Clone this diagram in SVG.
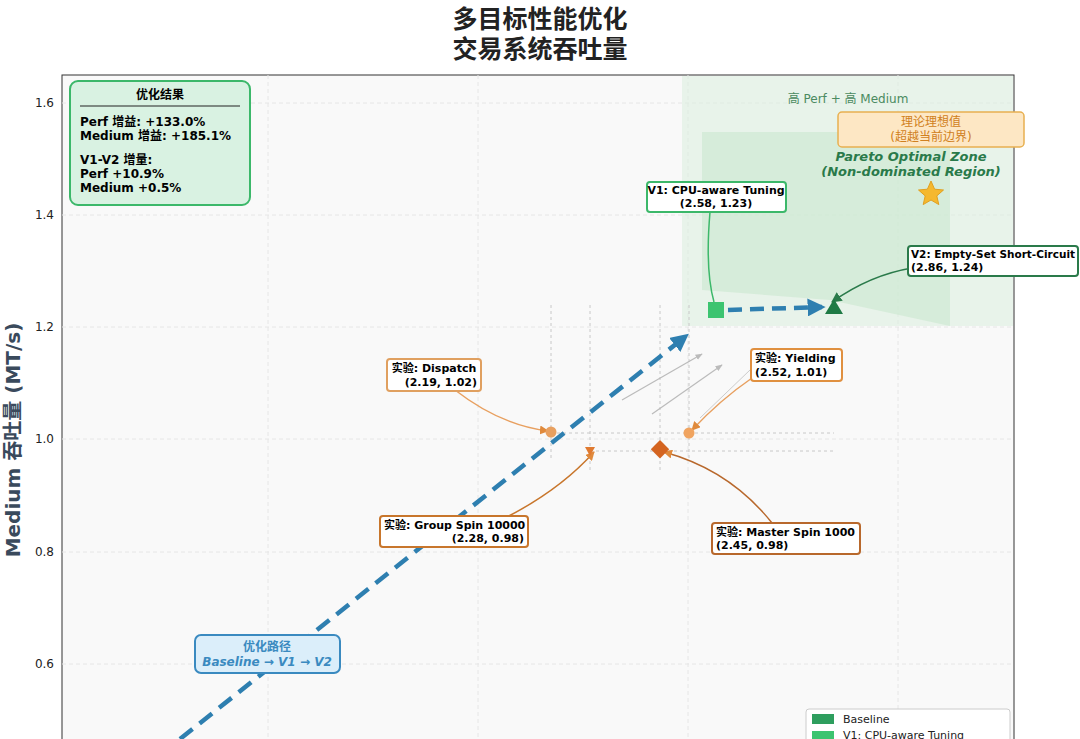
<svg xmlns="http://www.w3.org/2000/svg" width="1080" height="739" viewBox="0 0 1080 739">
<defs>
<style>
text{font-family:"DejaVu Sans","Noto Sans CJK SC",sans-serif}
.b{font-weight:bold}
.grid{stroke:#e6e6e6;stroke-width:1;stroke-dasharray:4 3}
.cross{stroke:#c8c8c8;stroke-width:1;stroke-dasharray:3 3;fill:none}
.lbl{fill:#fff;stroke-width:2}
.tk{font-size:12px;fill:#222}
</style>
<marker id="ab" viewBox="0 0 10 10" refX="8" refY="5" markerWidth="4" markerHeight="4" orient="auto"><path d="M0,0L10,5L0,10z" fill="#2e7fb0"/></marker>
<marker id="ao" viewBox="0 0 10 10" refX="9" refY="5" markerWidth="6" markerHeight="6" orient="auto"><path d="M0,0L10,5L0,10z" fill="#e08a3c"/></marker>
<marker id="ag" viewBox="0 0 10 10" refX="9" refY="5" markerWidth="7" markerHeight="7" orient="auto"><path d="M0,0L10,5L0,10z" fill="#2a7a4a"/></marker>
<marker id="agr" viewBox="0 0 10 10" refX="9" refY="5" markerWidth="6" markerHeight="6" orient="auto"><path d="M0,1L10,5L0,9z" fill="#bbb"/></marker>
</defs>
<rect width="1080" height="739" fill="#fff"/>
<text x="540" y="28" text-anchor="middle" class="b" font-size="25" fill="#222">多目标性能优化</text>
<text x="540" y="58" text-anchor="middle" class="b" font-size="25" fill="#222">交易系统吞吐量</text>
<rect x="62" y="75" width="952" height="680" fill="#f9f9f9" stroke="#333" stroke-width="1"/>
<g id="grid">
<line class="grid" x1="62" y1="103" x2="1014" y2="103"/><line class="grid" x1="62" y1="215" x2="1014" y2="215"/><line class="grid" x1="62" y1="327" x2="1014" y2="327"/><line class="grid" x1="62" y1="439" x2="1014" y2="439"/><line class="grid" x1="62" y1="552" x2="1014" y2="552"/><line class="grid" x1="62" y1="664" x2="1014" y2="664"/>
<line class="grid" x1="268" y1="75" x2="268" y2="739"/><line class="grid" x1="478" y1="75" x2="478" y2="739"/><line class="grid" x1="688" y1="75" x2="688" y2="739"/><line class="grid" x1="898" y1="75" x2="898" y2="739"/>
</g>
<g class="tk">
<text x="54" y="107" text-anchor="end">1.6</text><text x="54" y="219" text-anchor="end">1.4</text><text x="54" y="331" text-anchor="end">1.2</text><text x="54" y="443" text-anchor="end">1.0</text><text x="54" y="556" text-anchor="end">0.8</text><text x="54" y="668" text-anchor="end">0.6</text>
</g>
<text transform="translate(20,440) rotate(-90)" text-anchor="middle" class="b" font-size="20" fill="#3a4a5c">Medium 吞吐量 (MT/s)</text>
<g id="zones">
<rect x="682" y="76" width="331" height="250" fill="#dcefe0" opacity="0.6"/>
<path d="M702,132H950V326L830,300L702,290Z" fill="#c9e8cf" opacity="0.6"/>
<text x="848" y="103" text-anchor="middle" font-size="12" fill="#4a8a60">高 Perf + 高 Medium</text>
</g>
<g id="crosshairs">
<line class="cross" x1="551" y1="305" x2="551" y2="460"/><line class="cross" x1="590" y1="305" x2="590" y2="470"/><line class="cross" x1="660" y1="305" x2="660" y2="470"/><line class="cross" x1="689" y1="305" x2="689" y2="460"/>
<line class="cross" x1="551" y1="433" x2="834" y2="433"/><line class="cross" x1="590" y1="451" x2="834" y2="451"/>
</g>
<g id="connectors" fill="none">
<line x1="180" y1="739" x2="686" y2="336" stroke="#2e7fb0" stroke-width="4.5" stroke-dasharray="16 9" marker-end="url(#ab)"/>
<path d="M728,310 L822,307" stroke="#2e7fb0" stroke-width="4.5" stroke-dasharray="14 8" marker-end="url(#ab)"/>
<line x1="622" y1="400" x2="702" y2="354" stroke="#bbb" stroke-width="1.2" marker-end="url(#agr)"/>
<line x1="652" y1="414" x2="722" y2="365" stroke="#bbb" stroke-width="1.2" marker-end="url(#agr)"/>
<line x1="700" y1="418" x2="750" y2="370" stroke="#ccc" stroke-width="1"/>
<path d="M455,390 Q500,425 548,431" stroke="#e8a060" stroke-width="1.5" marker-end="url(#ao)"/>
<path d="M752,378 Q720,400 692,430" stroke="#e8a060" stroke-width="1.5" marker-end="url(#ao)"/>
<path d="M505,518 Q560,490 594,452" stroke="#c8762c" stroke-width="1.5" marker-end="url(#ao)"/>
<path d="M772,523 Q730,470 664,452" stroke="#b8682c" stroke-width="1.5" marker-end="url(#ao)"/>
<path d="M710,212 Q705,270 714,302" stroke="#3cb86a" stroke-width="1.5"/>
<path d="M912,268 Q870,275 832,302" stroke="#2a7a4a" stroke-width="1.5" marker-end="url(#ag)"/>
</g>
<g id="points">
<circle cx="551" cy="432" r="5.5" fill="#e8a060"/>
<circle cx="689" cy="433" r="5.5" fill="#f0a460"/>
<path d="M585,447L595,447L590,456Z" fill="#e07a30"/>
<rect x="653" y="443" width="13" height="13" transform="rotate(45 660 450)" fill="#d46420"/>
<rect x="708" y="302" width="16" height="16" fill="#3cc470"/>
<path d="M834,299L843,314L825,314Z" fill="#1f7a45"/>
<path d="M931,181l3.6,8.2l8.9,.8l-6.7,5.9l2,8.7l-7.8,-4.6l-7.8,4.6l2,-8.7l-6.7,-5.9l8.9,-.8z" fill="#f5b82e" stroke="#e0a020"/>
</g>
<g id="summary">
<rect x="70" y="81" width="180" height="124" rx="8" fill="#d9f2e2" stroke="#3cb86a" stroke-width="2"/>
<text x="160" y="99" text-anchor="middle" class="b" font-size="12">优化结果</text>
<line x1="80" y1="106" x2="240" y2="106" stroke="#222"/>
<text x="80" y="126" class="b" font-size="12">Perf 增益: +133.0%</text>
<text x="80" y="140" class="b" font-size="12">Medium 增益: +185.1%</text>
<text x="80" y="164" class="b" font-size="12">V1-V2 增量:</text>
<text x="80" y="178" class="b" font-size="12">Perf +10.9%</text>
<text x="80" y="192" class="b" font-size="12">Medium +0.5%</text>
</g>
<g id="ideal">
<rect x="838" y="112" width="186" height="35" rx="4" fill="#fde7c4" stroke="#e8b050" stroke-width="1.5"/>
<text x="931" y="126" text-anchor="middle" font-size="12" fill="#d08020">理论理想值</text>
<text x="931" y="141" text-anchor="middle" font-size="12" fill="#d08020">(超越当前边界)</text>
<text x="911" y="161" text-anchor="middle" class="b" font-style="italic" font-size="13" fill="#2a7a4a">Pareto Optimal Zone</text>
<text x="911" y="176" text-anchor="middle" class="b" font-style="italic" font-size="13" fill="#2a7a4a">(Non-dominated Region)</text>
</g>
<g id="v1">
<rect class="lbl" x="647" y="182" width="139" height="30" rx="3" stroke="#3cb86a"/>
<text x="716" y="194" text-anchor="middle" class="b" font-size="11">V1: CPU-aware Tuning</text>
<text x="716" y="207" text-anchor="middle" class="b" font-size="11">(2.58, 1.23)</text>
</g>
<g id="v2">
<rect class="lbl" x="908" y="246" width="170" height="30" rx="3" stroke="#2a7a4a"/>
<text x="911" y="258" class="b" font-size="11" textLength="164" lengthAdjust="spacingAndGlyphs">V2: Empty-Set Short-Circuit</text>
<text x="911" y="271" class="b" font-size="11">(2.86, 1.24)</text>
</g>
<g id="dispatch">
<rect class="lbl" x="387" y="359" width="94" height="32" rx="3" stroke="#e0a060"/>
<text x="434" y="372" text-anchor="middle" class="b" font-size="11">实验: Dispatch</text>
<text x="477" y="386" text-anchor="end" class="b" font-size="11">(2.19, 1.02)</text>
</g>
<g id="yielding">
<rect class="lbl" x="751" y="349" width="91" height="32" rx="3" stroke="#e09040"/>
<text x="755" y="362" class="b" font-size="11">实验: Yielding</text>
<text x="755" y="376" class="b" font-size="11">(2.52, 1.01)</text>
</g>
<g id="group">
<rect class="lbl" x="380" y="516" width="148" height="31" rx="3" stroke="#c8762c"/>
<text x="384" y="529" class="b" font-size="11">实验: Group Spin 10000</text>
<text x="524" y="542" text-anchor="end" class="b" font-size="11">(2.28, 0.98)</text>
</g>
<g id="master">
<rect class="lbl" x="712" y="523" width="148" height="31" rx="3" stroke="#b8682c"/>
<text x="716" y="536" class="b" font-size="11">实验: Master Spin 1000</text>
<text x="716" y="549" class="b" font-size="11">(2.45, 0.98)</text>
</g>
<g id="path-label">
<rect x="195" y="635" width="145" height="38" rx="6" fill="#dbeefa" stroke="#3a8ac0" stroke-width="2"/>
<text x="267" y="651" text-anchor="middle" class="b" font-size="12" fill="#3a8ac0">优化路径</text>
<text x="267" y="666" text-anchor="middle" class="b" font-style="italic" font-size="12" fill="#3a8ac0">Baseline → V1 → V2</text>
</g>
<g id="legend">
<rect x="806" y="709" width="204" height="40" rx="3" fill="#fff" stroke="#ccc"/>
<rect x="812" y="714" width="22" height="10" fill="#2e9e5e"/>
<text x="843" y="723" font-size="11" fill="#222">Baseline</text>
<rect x="812" y="731" width="22" height="10" fill="#3cc470"/>
<text x="843" y="739" font-size="11" fill="#222">V1: CPU-aware Tuning</text>
</g>
</svg>
